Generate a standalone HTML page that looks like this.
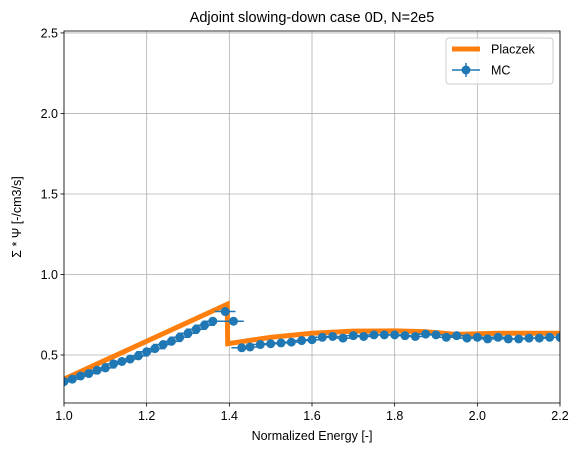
<!DOCTYPE html>
<html><head><meta charset="utf-8"><style>
body{margin:0;background:#fff;}
svg{display:block;font-family:"Liberation Sans","DejaVu Sans",sans-serif;}
</style></head><body>
<svg id="c" width="580" height="453"></svg>
<script>
const xTicks=[1.0,1.2,1.4,1.6,1.8,2.0,2.2];
const xTickLabels=["1.0","1.2","1.4","1.6","1.8","2.0","2.2"];
const yTicks=[0.5,1.0,1.5,2.0,2.5];
const yTickLabels=["0.5","1.0","1.5","2.0","2.5"];
const placzekX=[1.0,1.395,1.396,1.5,1.6,1.7,1.8,1.87,1.95,2.05,2.2];
const placzekY=[0.35,0.815,0.57,0.61,0.635,0.648,0.65,0.645,0.628,0.635,0.635];
const mcX=[1.0,1.02,1.04,1.06,1.08,1.1,1.12,1.14,1.16,1.18,1.2,1.22,1.24,1.26,1.28,1.3,1.32,1.34,1.36,1.39,1.41,1.43,1.45,1.475,1.5,1.525,1.55,1.575,1.6,1.625,1.65,1.675,1.7,1.725,1.75,1.775,1.8,1.825,1.85,1.875,1.9,1.925,1.95,1.975,2.0,2.025,2.05,2.075,2.1,2.125,2.15,2.175,2.2];
const mcY=[0.335,0.35,0.37,0.385,0.405,0.42,0.445,0.46,0.475,0.495,0.52,0.54,0.565,0.585,0.61,0.635,0.66,0.685,0.71,0.77,0.71,0.545,0.55,0.565,0.57,0.575,0.58,0.59,0.595,0.61,0.615,0.605,0.62,0.615,0.625,0.625,0.625,0.62,0.615,0.63,0.625,0.61,0.62,0.605,0.61,0.6,0.61,0.6,0.6,0.605,0.605,0.61,0.61];
const mcXErr=0.025;

const NS="http://www.w3.org/2000/svg";
const svg=document.getElementById('c');
const L=64,R=560,T=31,B=403,xmin=1.0,xmax=2.2,ymin=0.202,ymax=2.512;
const sx=v=>L+(v-xmin)/(xmax-xmin)*(R-L);
const sy=v=>B-(v-ymin)/(ymax-ymin)*(B-T);
function mk(tag,attrs,parent){const e=document.createElementNS(NS,tag);for(const k in attrs)e.setAttribute(k,attrs[k]);(parent||svg).appendChild(e);return e;}
const defs=mk('defs',{});const cp=mk('clipPath',{id:'clip'},defs);mk('rect',{x:L,y:T,width:R-L,height:B-T},cp);

const grid=mk('g',{});


xTicks.forEach((t,i)=>{
  const x=sx(t);
  mk('line',{x1:x,x2:x,y1:T,y2:B,stroke:'#b0b0b0','stroke-width':0.8},grid);
  mk('line',{x1:x,x2:x,y1:B,y2:B+3.5,stroke:'#000','stroke-width':0.8});
  const tx=mk('text',{x:x,y:B+17,'font-size':12.5,'text-anchor':'middle'});
  tx.textContent=xTickLabels[i];
  
  
});
yTicks.forEach((t,i)=>{
  const y=sy(t);
  mk('line',{x1:L,x2:R,y1:y,y2:y,stroke:'#b0b0b0','stroke-width':0.8},grid);
  mk('line',{x1:L-3.5,x2:L,y1:y,y2:y,stroke:'#000','stroke-width':0.8});
  const tx=mk('text',{x:L-6,y:y+4.5,'font-size':12.5,'text-anchor':'end'});
  tx.textContent=yTickLabels[i];
  
  
});

const pg=mk('g',{'clip-path':'url(#clip)'});
const pl=mk('polyline',{points:placzekX.map((x,i)=>sx(x)+','+sy(placzekY[i])).join(' '),fill:'none',stroke:'#ff7f0e','stroke-width':5,'stroke-linejoin':'miter'},pg);


const mg=mk('g',{'clip-path':'url(#clip)'});


mcX.forEach((x,i)=>{
  const y=sy(mcY[i]);
  mk('line',{x1:sx(x-mcXErr),x2:sx(x+mcXErr),y1:y,y2:y,stroke:'#1f77b4','stroke-width':1.5},mg);
});
mcX.forEach((x,i)=>{
  const c=mk('circle',{cx:sx(x),cy:sy(mcY[i]),r:4.5,fill:'#1f77b4'},mg);
  
  
});
mk('rect',{x:L,y:T,width:R-L,height:B-T,fill:'none',stroke:'#000','stroke-width':0.8});

function txt(s,a,name){const e=mk('text',a);e.textContent=s;return e;}
txt('Adjoint slowing-down case 0D, N=2e5',{x:(L+R)/2,y:22,'font-size':14.5,'text-anchor':'middle'},'chart-title');
txt('Normalized Energy [-]',{x:(L+R)/2,y:440,'font-size':12.5,'text-anchor':'middle'},'x-axis-title');
txt('Σ * Ψ [-/cm3/s]',{x:0,y:0,'font-size':12.5,'text-anchor':'middle',transform:'translate(21,'+((T+B)/2)+') rotate(-90)'},'y-axis-title');

const lg=mk('g',{});


mk('rect',{x:446,y:38,width:107,height:46,rx:3,fill:'#fff','fill-opacity':0.8,stroke:'#ccc'},lg);
mk('line',{x1:452,x2:480,y1:49,y2:49,stroke:'#ff7f0e','stroke-width':5},lg);
txt('Placzek',{x:491,y:53.5,'font-size':12.5},'legend-placzek');
mk('line',{x1:452,x2:480,y1:70,y2:70,stroke:'#1f77b4','stroke-width':1.5},lg);
mk('line',{x1:466,x2:466,y1:63,y2:77,stroke:'#1f77b4','stroke-width':1.5},lg);
mk('circle',{cx:466,cy:70,r:4.5,fill:'#1f77b4'},lg);
txt('MC',{x:491,y:74.5,'font-size':12.5},'legend-mc');
</script>
</body></html>
